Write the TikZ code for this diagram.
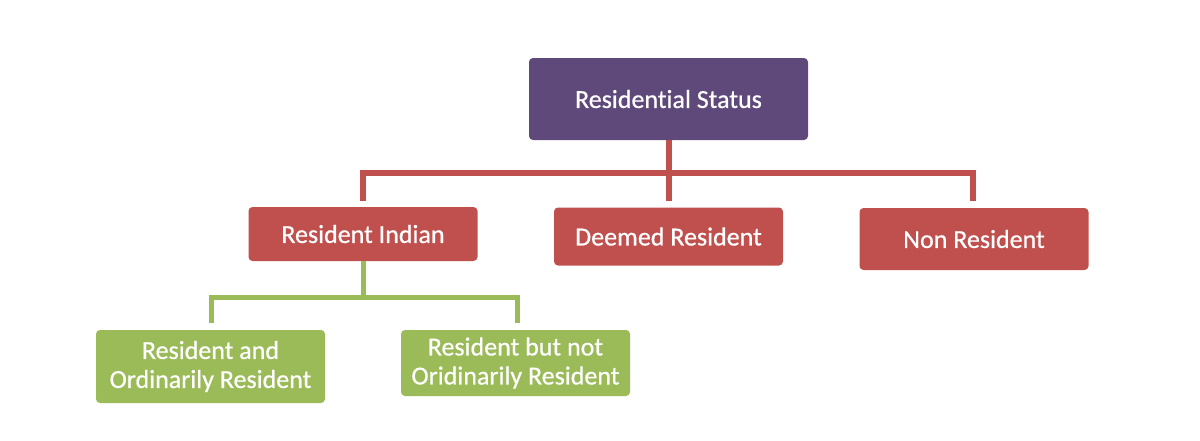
\documentclass[tikz,border=0pt]{standalone}
\usepackage{fontspec}
\setmainfont{Carlito}
\newfontfamily\boxfont[Ligatures=NoCommon,UprightFeatures={FakeBold=0.6}]{Carlito}
\definecolor{cpurple}{HTML}{5F497A}
\definecolor{cred}{HTML}{C0504D}
\definecolor{cgreen}{HTML}{9BBB59}
\begin{document}
\begin{tikzpicture}[x=1pt,y=-1pt,
  box/.style={rounded corners=4pt, text=white, align=center, inner sep=0pt,
    font=\boxfont\fontsize{26}{29}\selectfont},
  pbox/.style={box, fill=cpurple, minimum width=279pt, minimum height=82pt},
  rbox/.style={box, fill=cred, minimum width=229pt},
  gbox/.style={box, fill=cgreen, minimum width=229pt},
  redline/.style={draw=cred, line width=6pt},
  greenline/.style={draw=cgreen, line width=5pt}]
\useasboundingbox (0,0) rectangle (1200,440);
\node[pbox] (top) at (668.5,99) {Residential Status};
\node[rbox, minimum height=54pt] (ri) at (363,234) {Resident Indian};
\node[rbox, minimum height=58pt] (dr) at (668.5,236.5) {Deemed Resident};
\node[rbox, minimum height=62pt] (nr) at (974,239) {Non Resident};
\node[gbox, minimum height=73pt] (g1) at (210.5,366.5) {Resident and\\Ordinarily Resident};
\node[gbox, minimum height=66pt] (g2) at (515.5,363) {Resident but not\\Oridinarily Resident};
\coordinate (bus) at (0,173);
\coordinate (riT) at (363,201);
\coordinate (drT) at (668.5,201);
\coordinate (nrT) at (973,201);
\coordinate (gbus) at (0,297);
\coordinate (g1T) at (211,323);
\coordinate (g2T) at (517,323);
\draw[redline] (riT) -- (riT |- bus) -- (nrT |- bus) -- (nrT);
\draw[redline] (top.south) -- (drT);
\draw[greenline] (ri.south) -- (ri.south |- gbus);
\draw[greenline] (g1T) -- (g1T |- gbus) -- (g2T |- gbus) -- (g2T);
\end{tikzpicture}
\end{document}
